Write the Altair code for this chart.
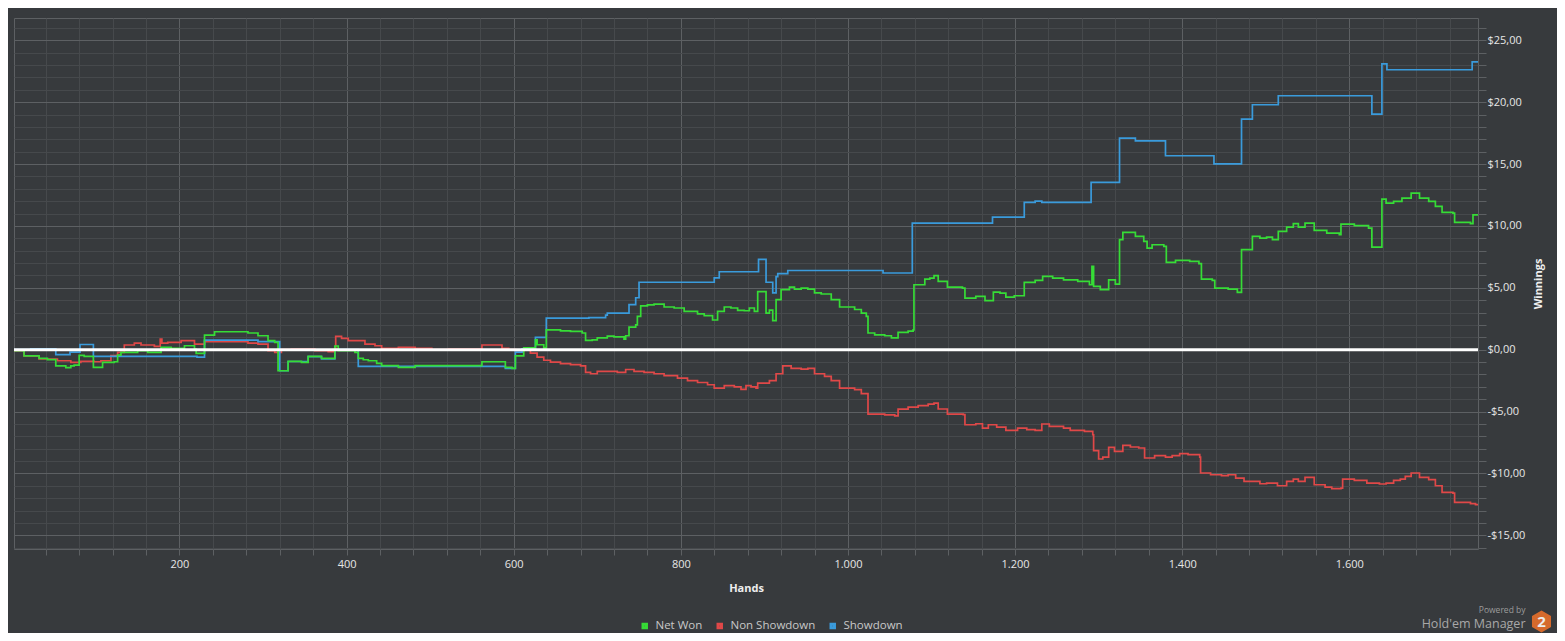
import altair as alt
import pandas as pd

SERIES = ["Net Won", "Non Showdown", "Showdown"]
COLORS = ["#36DC36", "#E04848", "#3A9BDC"]

# Net Won (green)
NET_HANDS = [2, 14, 32, 42, 52, 64, 70, 74, 80, 86, 97, 108, 122, 126, 130, 150, 162, 174, 178, 190,
             206, 218, 220, 230, 242, 262, 282, 294, 306, 314, 318, 330, 346, 354, 370, 386, 390, 410,
             414, 420, 426, 436, 442, 462, 482, 522, 562, 578, 590, 598, 602, 612, 626, 628, 636, 639,
             656, 668, 682, 686, 694, 700, 712, 720, 732, 734, 738, 746, 748, 752, 760, 768, 780, 792,
             804, 820, 828, 838, 844, 852, 860, 868, 876, 882, 888, 892, 898, 902, 906, 910, 914, 920,
             930, 936, 944, 952, 960, 968, 980, 990, 1008, 1016, 1022, 1024, 1032, 1044, 1052, 1060,
             1072, 1078, 1079, 1092, 1098, 1103, 1108, 1119, 1137, 1140, 1153, 1164, 1174, 1182, 1189,
             1199, 1211, 1224, 1233, 1245, 1258, 1275, 1289, 1292, 1294, 1302, 1312, 1320, 1325, 1329,
             1344, 1354, 1358, 1364, 1378, 1381, 1392, 1409, 1420, 1423, 1436, 1439, 1455, 1466, 1471,
             1484, 1493, 1501, 1508, 1515, 1525, 1533, 1539, 1547, 1558, 1573, 1588, 1590, 1606, 1623,
             1627, 1639, 1644, 1653, 1663, 1674, 1684, 1695, 1703, 1711, 1724, 1726, 1745, 1748, 1754]
NET_VALUES = [-0.08, -0.5, -0.7, -0.8, -1.3, -1.45, -1.3, -1.24, -0.45, -0.54, -1.43, -1.02, -0.97,
              -0.43, -0.22, -0.08, -0.22, -0.22, 0.19, 0.11, 0.32, 0.05, -0.3, 1.18, 1.45, 1.45, 1.35,
              1.13, 0.73, 0.59, -1.7, -0.94, -1.02, -0.54, -0.7, 0.3, -0.08, -0.22, -0.7, -0.81, -0.89,
              -1.1, -1.29, -1.43, -1.29, -1.29, -0.97, -0.97, -1.43, -1.51, -0.5, 0.15, 0.8, 0.4, 0.15,
              1.6, 1.53, 1.48, 1.35, 0.75, 0.8, 0.95, 1.1, 1.03, 0.86, 1.13, 1.83, 2.0, 2.7, 3.55, 3.63,
              3.69, 3.45, 3.37, 3.1, 2.9, 2.75, 2.4, 3.1, 3.45, 3.37, 3.18, 3.15, 3.37, 3.1, 4.7, 4.7,
              2.95, 3.2, 2.35, 4.05, 4.85, 5.05, 4.9, 4.97, 4.9, 4.6, 4.5, 4.05, 3.45, 3.25, 2.95, 2.7,
              1.35, 1.2, 1.13, 0.95, 1.4, 1.5, 1.6, 5.25, 5.7, 5.79, 5.98, 5.52, 5.06, 4.98, 4.17, 4.31,
              3.96, 4.66, 4.58, 4.25, 4.36, 5.44, 5.6, 5.92, 5.79, 5.65, 5.52, 5.25, 6.73, 5.12, 4.85,
              5.65, 5.3, 8.89, 9.48, 9.15, 8.75, 8.21, 8.48, 8.35, 7.05, 7.22, 7.14, 6.95, 5.71, 5.6,
              4.98, 4.9, 4.63, 8.08, 9.15, 9.02, 9.1, 8.89, 9.56, 9.91, 10.18, 9.91, 10.23, 9.64, 9.42,
              9.29, 10.15, 10.02, 9.83, 8.29, 12.17, 11.85, 11.98, 12.25, 12.65, 12.25, 11.98, 11.58,
              11.09, 11.04, 10.29, 10.18, 10.9, 10.9]

# Non Showdown (red)
NSD_HANDS = [2, 14, 32, 54, 70, 82, 98, 106, 118, 126, 134, 146, 154, 170, 177, 179, 186, 202, 218,
             230, 282, 294, 306, 314, 322, 334, 362, 378, 384, 387, 394, 402, 422, 434, 442, 462, 482,
             502, 522, 562, 578, 586, 594, 602, 612, 620, 628, 636, 644, 656, 668, 680, 686, 692, 700,
             724, 734, 744, 756, 768, 780, 796, 808, 820, 832, 840, 852, 864, 872, 878, 884, 890, 892,
             906, 914, 922, 932, 944, 952, 960, 972, 980, 990, 1008, 1016, 1024, 1044, 1056, 1060, 1072,
             1084, 1096, 1103, 1108, 1119, 1138, 1140, 1153, 1161, 1168, 1178, 1189, 1203, 1214, 1224,
             1232, 1241, 1258, 1266, 1283, 1293, 1294, 1300, 1305, 1312, 1319, 1329, 1338, 1348, 1355,
             1367, 1380, 1388, 1397, 1407, 1421, 1422, 1434, 1447, 1455, 1464, 1474, 1493, 1501, 1514,
             1525, 1533, 1539, 1547, 1558, 1571, 1579, 1590, 1592, 1606, 1621, 1636, 1644, 1653, 1661,
             1667, 1674, 1684, 1695, 1703, 1711, 1724, 1726, 1745, 1751, 1754]
NSD_VALUES = [-0.08, -0.5, -0.75, -0.89, -1.02, -0.94, -0.97, -0.89, -0.48, -0.22, 0.38, 0.54, 0.38,
              0.27, 0.86, 0.54, 0.59, 0.73, 0.46, 0.65, 0.54, 0.46, -0.08, -0.22, 0.0, 0.05, -0.08,
              -0.16, 0.0, 1.08, 0.92, 0.73, 0.46, 0.32, 0.11, 0.19, 0.11, 0.0, 0.05, 0.38, 0.38, 0.11,
              0.0, -0.08, 0.0, -0.27, -0.6, -0.85, -1.0, -1.13, -1.2, -1.3, -1.83, -1.94, -1.75, -1.83,
              -1.6, -1.75, -1.83, -1.94, -2.1, -2.3, -2.5, -2.65, -2.83, -3.1, -2.9, -3.0, -3.2, -2.9,
              -3.0, -3.1, -2.7, -2.5, -1.94, -1.3, -1.5, -1.56, -1.5, -1.94, -2.15, -2.5, -3.1, -3.23,
              -3.55, -5.2, -5.27, -5.35, -4.8, -4.63, -4.52, -4.4, -4.31, -4.79, -5.2, -5.25, -6.06,
              -5.98, -6.33, -6.06, -6.25, -6.52, -6.33, -6.46, -6.52, -6.0, -6.19, -6.33, -6.52, -6.6,
              -6.87, -8.16, -8.83, -8.67, -7.89, -8.21, -7.73, -7.86, -7.94, -8.75, -8.56, -8.67, -8.56,
              -8.4, -8.48, -8.67, -9.96, -10.1, -10.18, -10.1, -10.37, -10.64, -10.83, -10.77, -10.99,
              -10.64, -10.45, -10.64, -10.31, -10.91, -11.1, -11.23, -11.18, -10.45, -10.56, -10.77,
              -10.85, -10.77, -10.56, -10.45, -10.24, -9.96, -10.31, -10.5, -10.99, -11.52, -11.58,
              -12.33, -12.44, -12.52, -12.52]

# Showdown (blue)
SD_HANDS = [2, 22, 52, 69, 81, 97, 221, 230, 294, 320, 330, 354, 370, 386, 414, 590, 602, 610, 626,
            639, 690, 710, 712, 738, 746, 750, 840, 846, 893, 902, 910, 914, 916, 928, 1042, 1077, 1173,
            1211, 1224, 1232, 1291, 1325, 1344, 1380, 1438, 1471, 1484, 1515, 1627, 1639, 1645, 1747,
            1754]
SD_VALUES = [0.0, 0.08, -0.4, -0.2, 0.42, -0.54, -0.6, 0.78, 0.65, -1.7, -0.95, -0.55, -0.75, 0.0,
             -1.35, -1.5, -0.2, 0.08, 1.0, 2.55, 2.6, 2.8, 2.95, 3.65, 4.2, 5.45, 5.8, 6.3, 7.3, 5.45,
             4.6, 5.9, 6.15, 6.4, 6.2, 10.23, 10.72, 11.9, 12.0, 11.9, 13.52, 17.1, 16.88, 15.67,
             15.02, 18.63, 19.79, 20.52, 19.04, 23.1, 22.62, 23.26, 23.26]

X_TICKS = list(range(40, 1754, 40))
Y_TICKS = list(range(-16, 27))

rows = []
for name, hs, vs in [("Net Won", NET_HANDS, NET_VALUES),
                     ("Non Showdown", NSD_HANDS, NSD_VALUES),
                     ("Showdown", SD_HANDS, SD_VALUES)]:
    for h, v in zip(hs, vs):
        rows.append({"series": name, "hand": h, "value": v})
df = pd.DataFrame(rows)

FONT = "Open Sans"
BG = "#373A3D"
GRID_MAJOR = "#5D6063"
GRID_MINOR = "#46494C"

x_scale = alt.Scale(domain=[2, 1754], nice=False, zero=False)
y_scale = alt.Scale(domain=[-16.1, 26.8], nice=False, zero=False)
color_scale = alt.Scale(domain=SERIES, range=COLORS)

x_axis = alt.Axis(
    values=X_TICKS,
    labelExpr="datum.value % 200 === 0 ? replace(format(datum.value, ','), ',', '.') : ''",
    grid=True,
    gridColor={"condition": {"test": "datum.value % 200 === 0", "value": GRID_MAJOR}, "value": GRID_MINOR},
    gridWidth=1, tickSize=6, tickColor=GRID_MAJOR, domain=False,
    labelColor="#E6E6E6", labelFontSize=11, labelFont=FONT, labelPadding=3,
    labelOverlap=False, labelFlush=False,
    title="Hands", titleColor="#EEEEEE", titleFontSize=11, titleFont=FONT,
    titleFontWeight="bold", titlePadding=13,
)
y_axis = alt.Axis(
    values=Y_TICKS, orient="right",
    labelExpr="datum.value % 5 === 0 ? (datum.value < 0 ? '-$' : '$') + replace(format(abs(datum.value), '.2f'), '.', ',') : ''",
    grid=True,
    gridColor={"condition": {"test": "datum.value % 5 === 0", "value": GRID_MAJOR}, "value": GRID_MINOR},
    gridWidth=1, tickSize=8, tickColor=GRID_MAJOR, domain=False,
    labelColor="#E6E6E6", labelFontSize=11, labelFont=FONT, labelPadding=1,
    labelOverlap=False, labelFlush=False,
    title="Winnings", titleAngle=270, titleColor="#EEEEEE", titleFontSize=11, titleFont=FONT,
    titleFontWeight="bold", titlePadding=19,
)
legend = alt.Legend(
    orient="none", legendX=625, legendY=602, direction="horizontal", title=None,
    symbolType="square", symbolSize=12, symbolStrokeWidth=3,
    labelColor="#C8C8C8", labelFontSize=11.5, labelFont=FONT, columnPadding=9, labelOffset=5,
)


def series_layer(name):
    return alt.Chart(df).transform_filter(alt.datum.series == name).mark_line(
        interpolate="step-after", strokeWidth=1.7
    ).encode(
        x=alt.X("hand:Q", scale=x_scale, axis=x_axis),
        y=alt.Y("value:Q", scale=y_scale, axis=y_axis),
        color=alt.Color("series:N", scale=color_scale, legend=legend),
    )


zero = alt.Chart(pd.DataFrame({"v": [0]})).mark_rule(color="#FFFFFF", strokeWidth=3).encode(
    y=alt.Y("v:Q", scale=y_scale, axis=y_axis)
)

HEX = "M0,-1L0.866,-0.5L0.866,0.5L0,1L-0.866,0.5L-0.866,-0.5Z"
hexagon = alt.Chart(pd.DataFrame({"a": [1]})).mark_point(
    shape=HEX, filled=True, size=484, color="#D66A2C", opacity=1
).encode(x=alt.value(1527.5), y=alt.value(603.5))
two = alt.Chart(pd.DataFrame({"t": ["2"]})).mark_text(
    align="center", baseline="middle", fontSize=15, fontWeight="bold", color="#EDEDED", font=FONT
).encode(text="t:N", x=alt.value(1527.5), y=alt.value(604))
powered = alt.Chart(pd.DataFrame({"t": ["Powered by"]})).mark_text(
    align="right", baseline="middle", fontSize=8.5, color="#9C9C9C", font=FONT
).encode(text="t:N", x=alt.value(1511.5), y=alt.value(591.5))
hm = alt.Chart(pd.DataFrame({"t": ["Hold'em Manager"]})).mark_text(
    align="right", baseline="middle", fontSize=12.5, color="#A8A8A8", font=FONT
).encode(text="t:N", x=alt.value(1511.5), y=alt.value(605.5))

chart = alt.layer(
    series_layer("Non Showdown"),
    series_layer("Showdown"),
    series_layer("Net Won"),
    zero, hexagon, two, powered, hm,
).properties(
    width=1464, height=531,
    autosize=alt.AutoSizeParams(type="none"),
    padding={"left": 6, "top": 10, "right": 79, "bottom": 84},
    background=BG,
).configure_view(stroke=GRID_MAJOR, strokeWidth=1)

chart.save("out.html", embed_options={"renderer": "svg", "actions": False})
